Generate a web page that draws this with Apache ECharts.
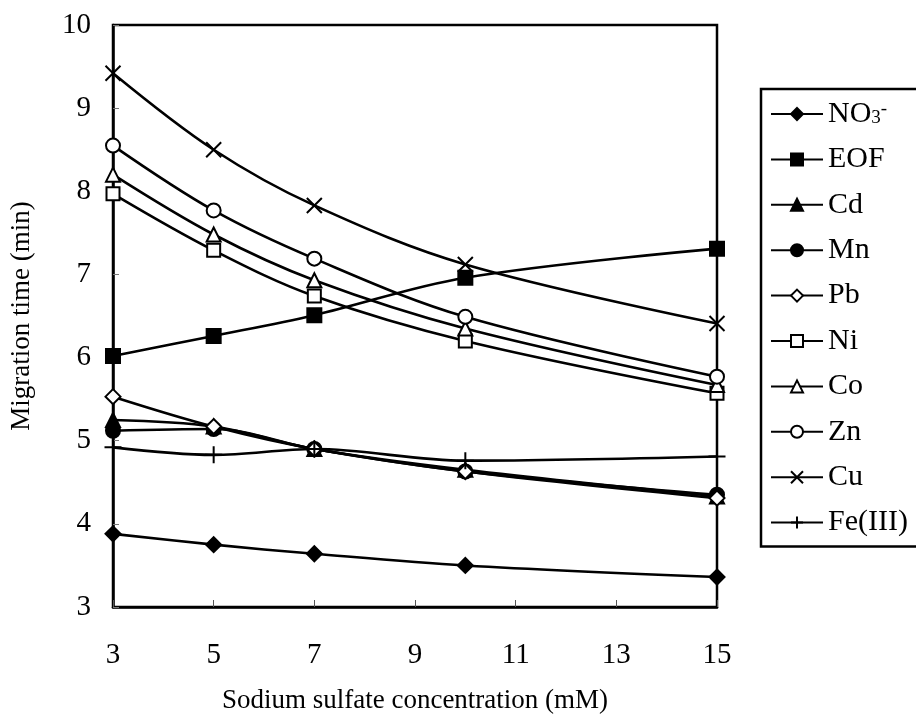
<!DOCTYPE html>
<html>
<head>
<meta charset="utf-8">
<script src="https://cdn.jsdelivr.net/npm/echarts@6/dist/echarts.min.js"></script>
<style>html,body{margin:0;padding:0;background:#fff}#c{width:916px;height:724px}</style>
</head>
<body>
<div id="c"></div>
<script>
const concentrations = [3, 5, 7, 10, 15];
const NO3 = [3.88, 3.75, 3.64, 3.50, 3.36];
const EOF = [6.02, 6.26, 6.51, 6.96, 7.31];
const Cd  = [5.25, 5.17, 4.90, 4.65, 4.33];
const Mn  = [5.12, 5.14, 4.90, 4.63, 4.35];
const Pb  = [5.53, 5.17, 4.90, 4.63, 4.31];
const Ni  = [7.97, 7.29, 6.74, 6.20, 5.57];
const Co  = [8.20, 7.48, 6.93, 6.35, 5.67];
const Zn  = [8.55, 7.77, 7.19, 6.49, 5.77];
const Cu  = [9.42, 8.50, 7.83, 7.12, 6.41];
const Fe  = [4.92, 4.83, 4.90, 4.76, 4.81];
const xTicks = [3, 5, 7, 9, 11, 13, 15];
const yTicks = [3, 4, 5, 6, 7, 8, 9, 10];

const FONT = '"Liberation Serif", "DejaVu Serif", serif';
const X_PATH = 'path://M0,0L10,10M0,10L10,0';
const PLUS_PATH = 'path://M0,5L10,5M5,0L5,10';

function mk(name, vals, symbol, filled, size) {
  return {
    name: name,
    type: 'line',
    smooth: 0.35,
    data: concentrations.map((c, i) => [c, vals[i]]),
    symbol: symbol,
    symbolSize: size,
    showAllSymbol: true,
    lineStyle: { color: '#000', width: 2.6 },
    itemStyle: {
      color: filled ? '#000' : '#fff',
      borderColor: '#000',
      borderWidth: 2
    },
    emphasis: { disabled: true },
    z: 3
  };
}

const series = [
  mk('NO3', NO3, 'diamond', true, 15),
  mk('EOF', EOF, 'rect', true, 14),
  mk('Cd', Cd, 'triangle', true, 14),
  mk('Mn', Mn, 'circle', true, 14),
  mk('Pb', Pb, 'diamond', false, 15),
  mk('Ni', Ni, 'rect', false, 13),
  mk('Co', Co, 'triangle', false, 14),
  mk('Zn', Zn, 'circle', false, 14),
  mk('Cu', Cu, X_PATH, true, 15),
  mk('Fe(III)', Fe, PLUS_PATH, true, 17)
];

const chart = echarts.init(document.getElementById('c'), null, { renderer: 'canvas' });
chart.setOption({
  animation: false,
  backgroundColor: '#fff',
  grid: {
    left: 111, right: 199, top: 25, bottom: 117,
    show: true, borderColor: '#000', borderWidth: 2.5, backgroundColor: 'transparent'
  },
  legend: {
    orient: 'vertical',
    left: 761, top: 89,
    padding: [10, 80, 9, 9],
    itemGap: 15.4,
    itemWidth: 52,
    itemHeight: 15,
    borderColor: '#000',
    borderWidth: 2.5,
    borderRadius: 0,
    selectedMode: false,
    textStyle: {
      fontFamily: FONT, fontSize: 30, color: '#000', lineHeight: 28,
      rich: {
        sub: { fontFamily: FONT, fontSize: 19, color: '#000', verticalAlign: 'bottom', padding: [12, 0, 0, 0] },
        sup: { fontFamily: FONT, fontSize: 19, color: '#000', verticalAlign: 'top', padding: [0, 0, 12, 0] }
      }
    },
    formatter: function (n) { return n === 'NO3' ? 'NO{sub|3}{sup|-}' : n; },
    data: series.map(s => s.name)
  },
  xAxis: {
    type: 'value',
    min: xTicks[0], max: xTicks[xTicks.length - 1], interval: 2,
    name: 'Sodium sulfate concentration (mM)',
    nameLocation: 'middle', nameGap: 80,
    nameTextStyle: { fontFamily: FONT, fontSize: 27, color: '#000' },
    axisLine: { lineStyle: { color: '#000', width: 2.5 } },
    axisTick: { inside: true, length: 7, lineStyle: { color: '#555', width: 1 } },
    axisLabel: {
      fontFamily: FONT, fontSize: 29, color: '#000', margin: 34,
      customValues: xTicks
    },
    splitLine: { show: false }
  },
  yAxis: {
    type: 'value',
    min: yTicks[0], max: yTicks[yTicks.length - 1], interval: 1,
    name: 'Migration time (min)',
    nameLocation: 'middle', nameGap: 78,
    nameTextStyle: { fontFamily: FONT, fontSize: 27, color: '#000' },
    axisLine: { lineStyle: { color: '#000', width: 2.5 } },
    axisTick: { inside: true, length: 6, lineStyle: { color: '#777', width: 1 } },
    axisLabel: { fontFamily: FONT, fontSize: 29, color: '#000', margin: 22 },
    splitLine: { show: false }
  },
  series: series
});
</script>
</body>
</html>
